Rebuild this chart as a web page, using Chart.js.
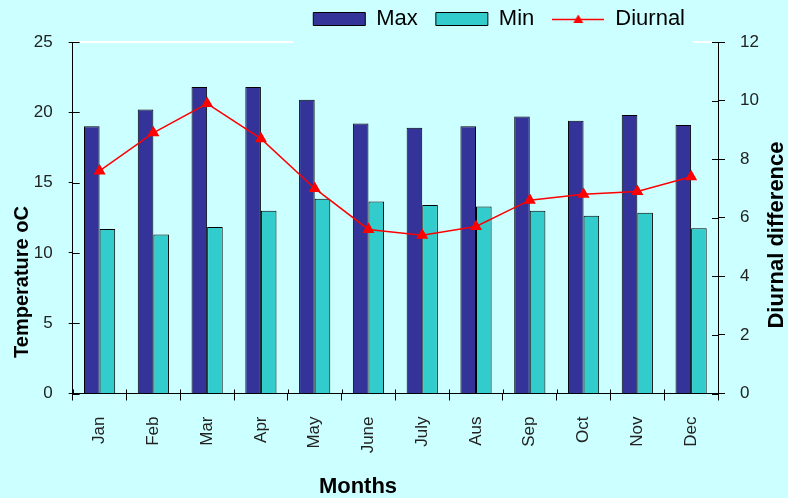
<!DOCTYPE html>
<html lang="en">
<head>
<meta charset="UTF-8">
<title>Monthly temperature</title>
<script src="https://cdn.jsdelivr.net/npm/chart.js"></script>
<style>
  html, body { margin: 0; padding: 0; background: #ccffff; }
  #wrap { width: 788px; height: 498px; position: relative; }
</style>
</head>
<body>
<div id="wrap"><canvas id="tempChart"></canvas></div>
<script>
// Data
const months = ['Jan', 'Feb', 'Mar', 'Apr', 'May', 'June', 'July', 'Aus', 'Sep', 'Oct', 'Nov', 'Dec'];
const maxTemp = [19.0, 20.2, 21.8, 21.8, 20.9, 19.2, 18.9, 19.0, 19.7, 19.4, 19.8, 19.1];
const minTemp = [11.7, 11.3, 11.85, 13.0, 13.85, 13.65, 13.4, 13.3, 13.0, 12.65, 12.85, 11.75];
const diurnal = [7.6, 8.9, 9.9, 8.7, 7.0, 5.6, 5.4, 5.7, 6.6, 6.8, 6.9, 7.4];
const tempTicks = [0, 5, 10, 15, 20, 25];
const diffTicks = [0, 2, 4, 6, 8, 10, 12];

const FONT = "'Liberation Sans', Arial, sans-serif";

// little line + triangle used as the legend symbol for the Diurnal series
const legendLine = document.createElement('canvas');
legendLine.width = 52;
legendLine.height = 14;
(function () {
    const c = legendLine.getContext('2d');
    c.strokeStyle = '#ff0000';
    c.lineWidth = 1.5;
    c.beginPath();
    c.moveTo(0, 7.5);
    c.lineTo(52, 7.5);
    c.stroke();
    c.fillStyle = '#ff0000';
    c.beginPath();
    c.moveTo(26, 2.5);
    c.lineTo(31, 11);
    c.lineTo(21, 11);
    c.closePath();
    c.fill();
})();

// push the legend to the right, over the plot area, as in the Excel original
const legendShift = {
    id: 'legendShift',
    afterLayout(chart) {
        chart.legend.right = chart.chartArea.right - 15;
        chart.legend.top -= 10;
    }
};

// white top edge, inner half of the cross tick marks and the axis titles
const extras = {
    id: 'extras',
    afterDraw(chart) {
        const { ctx, chartArea: a, scales } = chart;
        const lg = chart.legend;
        ctx.save();

        const gapL = lg.right - lg.lineWidths[0] - 20;
        const gapR = lg.right - 10;
        ctx.strokeStyle = '#ffffff';
        ctx.lineWidth = 2;
        ctx.beginPath();
        ctx.moveTo(a.left + 1, a.top);
        ctx.lineTo(gapL, a.top);
        ctx.moveTo(gapR, a.top);
        ctx.lineTo(a.right - 6, a.top);
        ctx.stroke();

        ctx.strokeStyle = '#000000';
        ctx.lineWidth = 1;
        ctx.beginPath();
        scales.y.ticks.forEach(t => {
            const py = Math.round(scales.y.getPixelForValue(t.value)) + 0.5;
            ctx.moveTo(a.left, py);
            ctx.lineTo(a.left + 7, py);
        });
        scales.y1.ticks.forEach(t => {
            const py = Math.round(scales.y1.getPixelForValue(t.value)) + 0.5;
            ctx.moveTo(a.right - 6, py);
            ctx.lineTo(a.right, py);
        });
        for (let i = 0; i <= months.length; i++) {
            const px = Math.round(scales.x.getPixelForValue(i - 0.5)) + 0.5;
            ctx.moveTo(px, a.bottom);
            ctx.lineTo(px, a.bottom - 4);
        }
        ctx.stroke();

        ctx.fillStyle = '#000000';
        ctx.textAlign = 'center';
        ctx.textBaseline = 'middle';

        ctx.font = 'bold 20px ' + FONT;
        ctx.save();
        ctx.translate(22, 282);
        ctx.rotate(-Math.PI / 2);
        ctx.fillText('Temperature oC', 0, 0);
        ctx.restore();

        ctx.font = 'bold 22px ' + FONT;
        ctx.save();
        ctx.translate(777, 235);
        ctx.rotate(-Math.PI / 2);
        ctx.fillText('Diurnal difference', 0, 0);
        ctx.restore();

        ctx.fillText('Months', 358, 487);
        ctx.restore();
    }
};

const tickFont = { family: FONT, size: 17 };

new Chart(document.getElementById('tempChart'), {
    type: 'bar',
    data: {
        labels: months,
        datasets: [
            {
                label: 'Max',
                data: maxTemp,
                backgroundColor: '#333399',
                borderColor: '#000000',
                borderWidth: 1,
                categoryPercentage: 0.58,
                barPercentage: 1.0,
                yAxisID: 'y',
                order: 1
            },
            {
                label: 'Min',
                data: minTemp,
                backgroundColor: '#33cccc',
                borderColor: '#000000',
                borderWidth: 1,
                categoryPercentage: 0.58,
                barPercentage: 1.0,
                yAxisID: 'y',
                order: 1
            },
            {
                type: 'line',
                label: 'Diurnal',
                data: diurnal,
                borderColor: '#ff0000',
                backgroundColor: '#ff0000',
                borderWidth: 1.5,
                tension: 0,
                pointStyle: 'triangle',
                pointRadius: 5.5,
                pointBackgroundColor: '#ff0000',
                pointBorderColor: '#ff0000',
                yAxisID: 'y1',
                order: 0
            }
        ]
    },
    options: {
        responsive: true,
        maintainAspectRatio: false,
        animation: false,
        layout: { padding: 0 },
        plugins: {
            tooltip: { enabled: false },
            legend: {
                position: 'top',
                align: 'end',
                maxHeight: 42,
                labels: {
                    usePointStyle: true,
                    pointStyleWidth: 52,
                    boxHeight: 13,
                    padding: 18,
                    color: '#000000',
                    font: { family: FONT, size: 22 },
                    sort: (a, b) => a.datasetIndex - b.datasetIndex,
                    generateLabels(chart) {
                        const items = Chart.defaults.plugins.legend.labels.generateLabels(chart);
                        items.forEach(it => {
                            if (it.datasetIndex === 2) {
                                it.pointStyle = legendLine;
                                it.lineWidth = 0;
                            } else {
                                it.pointStyle = 'rect';
                                it.lineWidth = 1;
                                it.strokeStyle = '#000000';
                            }
                        });
                        return items;
                    }
                }
            }
        },
        scales: {
            x: {
                grid: { offset: true, drawOnChartArea: false, tickLength: 7, color: '#000000' },
                border: { color: '#000000', width: 1 },
                ticks: {
                    minRotation: 90,
                    maxRotation: 90,
                    autoSkip: false,
                    padding: 16,
                    color: '#222222',
                    font: tickFont
                },
                afterFit(s) { s.height = 104.5; }
            },
            y: {
                position: 'left',
                min: tempTicks[0],
                max: tempTicks[tempTicks.length - 1],
                grid: { drawOnChartArea: false, tickLength: 4, color: '#000000' },
                border: { color: '#000000', width: 1 },
                ticks: {
                    stepSize: tempTicks[1] - tempTicks[0],
                    padding: 16,
                    color: '#222222',
                    font: tickFont
                },
                afterFit(s) { s.width = 72.7; }
            },
            y1: {
                position: 'right',
                min: diffTicks[0],
                max: diffTicks[diffTicks.length - 1],
                grid: { drawOnChartArea: false, tickLength: 7, color: '#000000' },
                border: { color: '#000000', width: 1 },
                ticks: {
                    stepSize: diffTicks[1] - diffTicks[0],
                    padding: 15,
                    color: '#222222',
                    font: tickFont
                },
                afterFit(s) { s.width = 70; }
            }
        }
    },
    plugins: [legendShift, extras]
});
</script>
</body>
</html>
